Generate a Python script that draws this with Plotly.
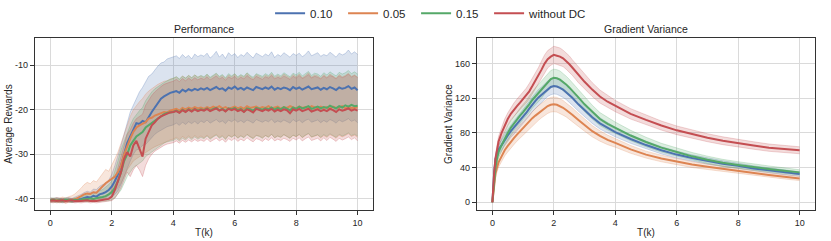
import numpy as np
import plotly.graph_objects as go
from plotly.subplots import make_subplots

# ---------------- Performance data (T in k, step 0.1) ----------------
perf_t = [round(i * 0.1, 1) for i in range(101)]

blue_mean = [-40.3,-40.4,-40.2,-40.3,-40.5,-40.3,-40.2,-40.4,-40.3,-40.1,
 -40.0,-39.8,-39.6,-39.7,-39.3,-39.5,-39.0,-38.8,-38.5,-38.0,
 -37.2,-36.0,-34.5,-32.5,-30.0,-27.5,-26.0,-24.5,-23.0,-23.2,
 -22.5,-22.8,-21.5,-20.5,-19.5,-18.5,-17.5,-17.0,-16.5,-16.2,
 -16.0,-15.8,-16.2,-15.5,-15.9,-15.4,-15.7,-15.3,-15.6,-15.2,
 -15.5,-15.1,-15.6,-15.3,-14.9,-15.4,-15.2,-15.7,-15.0,-15.3,
 -14.8,-15.4,-15.1,-15.5,-15.0,-15.3,-15.6,-14.9,-15.2,-15.4,
 -15.0,-15.3,-14.8,-15.5,-15.1,-15.4,-15.0,-15.2,-15.6,-14.9,
 -15.3,-15.0,-15.5,-15.1,-14.8,-15.4,-15.2,-15.0,-15.5,-15.1,
 -15.4,-14.9,-15.2,-15.6,-15.0,-15.3,-15.1,-14.7,-15.3,-15.0,
 -15.6]
blue_upper = [-39.8,-39.9,-39.7,-39.8,-40.0,-39.8,-39.7,-39.9,-39.6,-39.4,
 -39.0,-38.6,-38.3,-38.5,-37.8,-37.9,-37.2,-36.8,-36.5,-35.8,
 -34.5,-32.5,-30.5,-28.0,-25.5,-23.0,-20.5,-19.0,-17.5,-16.0,
 -15.0,-13.8,-12.5,-12.0,-11.0,-10.2,-9.5,-9.3,-8.6,-8.4,
 -8.2,-7.9,-8.5,-7.6,-8.3,-7.8,-8.6,-7.5,-8.1,-7.7,
 -8.0,-7.3,-8.4,-7.8,-6.9,-8.2,-7.5,-8.5,-7.2,-7.9,
 -7.4,-8.3,-7.6,-8.0,-7.1,-7.8,-8.4,-7.3,-7.7,-8.1,
 -7.5,-7.9,-7.0,-8.3,-7.6,-8.0,-7.2,-7.7,-8.2,-7.4,
 -7.8,-7.3,-8.1,-7.6,-6.8,-7.9,-7.5,-7.2,-8.0,-7.6,
 -7.9,-7.1,-7.6,-8.2,-7.3,-7.7,-7.4,-6.6,-7.5,-7.0,
 -7.6]
blue_lower = [-40.7,-40.8,-40.6,-40.7,-40.9,-40.7,-40.6,-40.8,-40.7,-40.6,
 -40.6,-40.5,-40.4,-40.5,-40.3,-40.4,-40.2,-40.3,-40.1,-39.9,
 -39.6,-39.0,-38.2,-36.8,-35.0,-33.0,-31.5,-30.0,-29.0,-28.8,
 -28.0,-27.8,-27.0,-26.2,-25.5,-25.0,-24.5,-24.2,-23.8,-23.6,
 -23.4,-23.0,-23.5,-22.8,-23.3,-22.7,-23.1,-22.6,-23.2,-22.5,
 -22.9,-22.3,-23.0,-22.6,-22.2,-22.8,-22.5,-23.1,-22.3,-22.7,
 -22.2,-22.8,-22.4,-22.9,-22.3,-22.6,-23.0,-22.2,-22.5,-22.8,
 -22.4,-22.7,-22.1,-22.9,-22.5,-22.8,-22.3,-22.6,-23.0,-22.2,
 -22.7,-22.3,-22.9,-22.4,-22.1,-22.8,-22.5,-22.3,-22.9,-22.4,
 -22.8,-22.2,-22.5,-23.0,-22.3,-22.7,-22.4,-22.0,-22.6,-22.3,
 -22.9]

orange_mean = [-40.3,-40.4,-40.2,-40.4,-40.3,-40.5,-40.2,-40.3,-40.1,-39.8,
 -39.4,-39.0,-38.8,-38.9,-38.5,-38.6,-38.0,-37.2,-36.5,-36.0,
 -35.5,-35.0,-34.0,-32.5,-30.0,-28.0,-26.5,-25.0,-24.0,-23.5,
 -23.2,-22.8,-22.0,-21.8,-21.3,-21.0,-20.8,-20.5,-20.6,-20.2,
 -20.0,-19.8,-20.2,-19.6,-19.9,-19.5,-19.8,-19.4,-19.7,-19.5,
 -19.8,-19.4,-19.7,-19.3,-19.6,-19.2,-19.7,-19.4,-19.8,-19.5,
 -19.3,-19.7,-19.4,-19.8,-19.2,-19.6,-19.5,-19.3,-19.7,-19.4,
 -19.6,-19.2,-19.7,-19.5,-19.3,-19.8,-19.4,-19.6,-19.2,-19.5,
 -19.7,-19.3,-19.6,-19.4,-19.8,-19.2,-19.5,-19.7,-19.3,-19.6,
 -19.4,-19.8,-19.3,-19.6,-19.5,-19.2,-19.7,-19.4,-19.6,-19.5,
 -19.5]
orange_upper = [-39.8,-39.9,-39.7,-39.8,-39.6,-39.8,-39.5,-39.3,-38.9,-38.3,
 -37.6,-36.8,-36.3,-36.6,-35.9,-36.2,-35.2,-34.2,-33.4,-33.8,
 -32.5,-31.0,-29.5,-27.5,-25.0,-23.5,-21.5,-20.0,-19.0,-18.2,
 -17.5,-16.5,-15.8,-15.2,-14.8,-14.3,-14.0,-13.6,-13.5,-13.1,
 -13.0,-12.6,-13.2,-12.4,-12.9,-12.3,-12.8,-12.2,-12.7,-12.4,
 -12.8,-12.1,-12.9,-12.4,-11.9,-12.7,-12.3,-13.0,-12.2,-12.6,
 -12.0,-12.8,-12.3,-12.7,-11.8,-12.5,-13.0,-12.1,-12.4,-12.8,
 -12.2,-12.6,-11.9,-12.8,-12.3,-12.7,-12.0,-12.5,-12.9,-12.1,
 -12.6,-12.0,-12.8,-12.3,-11.7,-12.7,-12.2,-12.4,-12.9,-12.1,
 -12.7,-12.0,-12.4,-12.9,-12.1,-12.6,-12.3,-11.8,-12.5,-12.2,
 -12.7]
orange_lower = [-40.8,-40.9,-40.7,-40.9,-40.8,-41.0,-40.7,-40.8,-40.7,-40.6,
 -40.6,-40.5,-40.6,-40.5,-40.4,-40.5,-40.3,-40.1,-39.8,-39.2,
 -38.5,-38.2,-37.5,-36.5,-35.0,-33.5,-32.5,-31.5,-31.0,-30.5,
 -30.0,-29.6,-29.0,-28.7,-28.3,-28.0,-27.6,-27.3,-27.1,-26.8,
 -26.6,-26.2,-26.7,-26.0,-26.5,-25.9,-26.4,-25.8,-26.3,-25.9,
 -26.3,-25.7,-26.4,-25.9,-25.5,-26.2,-25.8,-26.5,-25.7,-26.1,
 -25.6,-26.3,-25.8,-26.2,-25.5,-26.0,-26.4,-25.7,-25.9,-26.3,
 -25.8,-26.1,-25.5,-26.3,-25.9,-26.2,-25.6,-26.0,-26.4,-25.7,
 -26.1,-25.6,-26.3,-25.8,-25.4,-26.2,-25.9,-25.7,-26.3,-25.8,
 -26.2,-25.6,-25.9,-26.4,-25.7,-26.1,-25.8,-25.4,-26.0,-25.7,
 -26.2]

green_mean = [-40.3,-40.2,-40.4,-40.3,-40.4,-40.2,-40.3,-40.4,-40.2,-40.3,
 -40.2,-40.0,-40.1,-39.9,-40.0,-39.8,-39.7,-39.6,-39.4,-39.0,
 -38.5,-37.5,-36.0,-34.0,-31.5,-30.0,-28.0,-27.0,-26.0,-25.5,
 -25.0,-24.0,-23.5,-22.8,-22.3,-21.8,-21.3,-21.0,-20.7,-20.6,
 -20.5,-20.2,-20.6,-20.0,-20.4,-19.9,-20.3,-19.8,-20.2,-19.9,
 -20.1,-19.7,-20.2,-19.8,-19.6,-20.1,-19.8,-20.3,-19.7,-19.9,
 -19.6,-20.1,-19.8,-20.4,-19.7,-19.9,-20.2,-19.6,-19.8,-20.0,
 -19.7,-19.9,-19.5,-20.0,-19.6,-19.9,-19.4,-19.7,-20.1,-19.5,
 -19.8,-19.3,-19.7,-19.5,-19.2,-19.8,-19.5,-19.3,-19.7,-19.4,
 -19.6,-19.1,-19.4,-19.7,-19.2,-19.5,-19.0,-19.3,-18.9,-19.2,
 -19.1]
green_upper = [-39.9,-39.8,-40.0,-39.9,-40.0,-39.8,-39.9,-40.0,-39.8,-39.8,
 -39.6,-39.3,-39.2,-38.8,-38.9,-38.5,-38.2,-37.9,-37.4,-36.8,
 -36.0,-34.0,-31.5,-29.0,-27.0,-25.5,-23.5,-22.0,-21.0,-20.2,
 -19.5,-18.0,-17.0,-16.0,-15.3,-14.8,-14.2,-13.9,-13.5,-13.2,
 -13.0,-12.6,-13.1,-12.5,-12.9,-12.3,-12.8,-12.2,-12.7,-12.3,
 -12.6,-12.0,-12.7,-12.2,-11.8,-12.5,-12.1,-12.8,-11.9,-12.4,
 -11.9,-12.6,-12.1,-12.5,-11.7,-12.3,-12.7,-11.9,-12.2,-12.5,
 -11.9,-12.3,-11.6,-12.5,-12.0,-12.4,-11.7,-12.1,-12.6,-11.8,
 -12.2,-11.6,-12.4,-11.9,-11.4,-12.3,-11.8,-12.0,-12.5,-11.7,
 -12.2,-11.5,-11.9,-12.4,-11.6,-12.0,-11.7,-11.2,-11.9,-11.5,
 -12.0]
green_lower = [-40.7,-40.6,-40.8,-40.7,-40.8,-40.6,-40.7,-40.8,-40.6,-40.7,
 -40.7,-40.6,-40.7,-40.6,-40.7,-40.6,-40.6,-40.5,-40.5,-40.4,
 -40.2,-39.8,-39.0,-38.0,-36.5,-35.0,-34.0,-33.0,-32.5,-32.0,
 -31.5,-30.5,-30.0,-29.3,-28.8,-28.3,-27.8,-27.5,-27.2,-27.0,
 -26.9,-26.5,-27.0,-26.4,-26.8,-26.2,-26.7,-26.1,-26.6,-26.2,
 -26.5,-25.9,-26.6,-26.1,-25.7,-26.4,-26.0,-26.7,-25.8,-26.2,
 -25.7,-26.4,-25.9,-26.3,-25.6,-26.1,-26.5,-25.8,-26.0,-26.4,
 -25.8,-26.2,-25.5,-26.3,-25.9,-26.2,-25.6,-26.0,-26.4,-25.7,
 -26.0,-25.5,-26.2,-25.7,-25.3,-26.1,-25.8,-25.6,-26.2,-25.6,
 -26.0,-25.4,-25.8,-26.2,-25.5,-25.9,-25.6,-25.2,-25.8,-25.5,
 -25.9]

red_mean = [-40.4,-40.3,-40.5,-40.4,-40.3,-40.5,-40.4,-40.3,-40.5,-40.4,
 -40.5,-40.4,-40.3,-40.5,-40.4,-40.5,-40.4,-40.3,-40.2,-40.0,
 -39.5,-38.0,-36.0,-34.0,-31.0,-29.5,-30.5,-28.0,-27.0,-29.0,
 -30.5,-26.5,-25.0,-23.5,-22.8,-22.0,-21.5,-21.2,-20.8,-20.6,
 -20.5,-20.3,-20.7,-20.1,-20.5,-20.0,-20.4,-19.9,-20.3,-20.0,
 -20.2,-19.8,-20.3,-20.0,-19.7,-20.2,-19.9,-20.4,-19.8,-20.1,
 -19.8,-20.3,-20.0,-20.5,-19.9,-20.2,-20.6,-19.8,-20.1,-20.3,
 -19.9,-20.2,-19.8,-20.4,-20.0,-20.3,-19.9,-20.1,-20.8,-19.9,
 -20.2,-19.8,-20.3,-20.0,-19.8,-20.4,-20.1,-19.9,-20.3,-20.0,
 -20.3,-19.8,-20.1,-20.5,-19.9,-20.2,-20.0,-19.7,-20.2,-19.9,
 -20.2]
red_upper = [-40.0,-39.9,-40.1,-40.0,-39.9,-40.1,-40.0,-39.9,-40.1,-40.0,
 -40.1,-40.0,-39.9,-40.1,-40.0,-40.0,-39.9,-39.7,-39.4,-39.0,
 -38.0,-35.5,-33.0,-30.5,-27.5,-25.5,-24.5,-23.0,-22.0,-21.5,
 -21.0,-19.0,-17.8,-16.8,-16.0,-15.3,-14.8,-14.3,-14.0,-13.8,
 -13.6,-13.2,-13.7,-13.0,-13.5,-12.9,-13.4,-12.8,-13.3,-12.9,
 -13.2,-12.6,-13.3,-12.8,-12.4,-13.1,-12.7,-13.4,-12.6,-13.0,
 -12.5,-13.2,-12.7,-13.1,-12.3,-12.9,-13.3,-12.5,-12.8,-13.2,
 -12.6,-12.9,-12.3,-13.1,-12.7,-13.0,-12.4,-12.8,-13.2,-12.5,
 -12.9,-12.3,-13.0,-12.6,-12.1,-12.9,-12.5,-12.7,-13.1,-12.4,
 -12.9,-12.3,-12.6,-13.1,-12.4,-12.8,-12.5,-12.0,-12.7,-12.3,
 -12.8]
red_lower = [-40.8,-40.7,-40.9,-40.8,-40.7,-40.9,-40.8,-40.7,-40.9,-40.8,
 -40.9,-40.8,-40.7,-40.9,-40.8,-40.9,-40.8,-40.7,-40.7,-40.6,
 -40.4,-39.8,-38.8,-37.5,-35.5,-34.0,-35.0,-33.5,-32.5,-33.5,
 -35.0,-32.5,-31.0,-30.0,-29.3,-28.8,-28.3,-28.0,-27.7,-27.5,
 -27.4,-27.0,-27.5,-26.9,-27.3,-26.8,-27.2,-26.7,-27.1,-26.8,
 -27.1,-26.5,-27.2,-26.8,-26.4,-27.0,-26.6,-27.3,-26.5,-26.9,
 -26.4,-27.1,-26.6,-27.0,-26.3,-26.8,-27.2,-26.5,-26.7,-27.1,
 -26.5,-26.9,-26.3,-27.0,-26.6,-26.9,-26.4,-26.7,-27.1,-26.4,
 -26.8,-26.3,-27.0,-26.5,-26.1,-26.9,-26.6,-26.4,-27.0,-26.3,
 -26.9,-26.2,-26.6,-27.1,-26.4,-26.8,-26.5,-26.1,-26.7,-26.3,
 -27.0]

# ---------------- Gradient variance data ----------------
gv_t = [0, 0.03, 0.06, 0.1, 0.15, 0.2, 0.3, 0.4, 0.5, 0.6, 0.7, 0.8, 0.9, 1.0,
        1.1, 1.2, 1.3, 1.4, 1.5, 1.6, 1.7, 1.8, 1.9, 2.0, 2.1, 2.2, 2.3, 2.4,
        2.5, 2.6, 2.8, 3.0, 3.25, 3.5, 3.75, 4.0, 4.5, 5.0, 5.5, 6.0, 6.5, 7.0,
        7.5, 8.0, 8.5, 9.0, 9.5, 10.0]
gv_blue = [0, 20, 35, 50, 57, 61, 66, 72, 77, 82, 86, 90, 95, 99, 103, 108, 113,
           117, 121, 124, 128, 131, 133, 134, 133.5, 132, 130, 127, 124, 120.5,
           113, 106, 98, 91, 85.5, 81, 73, 66, 60, 55, 51, 47.5, 44.5, 42, 39,
           37, 34.5, 32.5]
gv_orange = [0, 12, 22, 33, 40, 46, 53, 60, 65, 70, 74, 78, 82, 85, 89, 93, 97,
             100, 103, 106, 109, 111, 112.5, 113, 112.5, 111, 109, 106.5, 104,
             101, 95, 89, 82, 76.5, 72, 68.5, 61, 55, 50.5, 47, 43.5, 41, 38.5,
             36.5, 34, 31.5, 29.5, 27.5]
gv_green = [0, 15, 26, 40, 50, 58, 66, 74, 80, 86, 91, 96, 100, 104, 108, 113,
            118, 122, 126, 130, 135, 139, 142, 143.5, 143, 141.5, 139, 136,
            132.5, 129, 121, 113, 104, 96, 90.5, 86, 77, 69.5, 63, 58, 53, 49,
            45.5, 43, 40.5, 38.5, 36.5, 34.5]
gv_red = [0, 22, 35, 50, 60, 70, 80, 89, 96, 102, 107, 111, 115, 119, 123, 128,
          134, 140, 146, 153, 160, 165, 168, 170, 169, 168, 166, 163, 159.5,
          155.5, 147, 139, 130, 122, 116, 111, 102, 95, 88.5, 83, 78.5, 74.5,
          71, 68, 65.5, 63, 61.5, 60]
gv_blue_sd = [0, 3, 4, 5, 5, 6, 6, 6.5, 7, 7, 7.5, 7.5, 8, 8, 8, 8.5, 8.5, 9, 9,
              9, 9, 9, 9, 9, 9, 9, 9, 8.5, 8.5, 8.5, 8, 7.5, 7, 6.5, 6, 5.5, 5,
              4.5, 4.2, 4, 3.7, 3.5, 3.3, 3.1, 3, 2.8, 2.7, 2.5]
gv_orange_sd = [0, 3, 4, 5, 5, 5.5, 6, 6.5, 7, 7, 7.5, 7.5, 8, 8, 8, 8, 8.5, 8.5,
                8.5, 8.5, 8.5, 8.5, 8.5, 8.5, 8.5, 8.5, 8.5, 8, 8, 8, 7.5, 7, 6.5,
                6, 5.5, 5, 4.5, 4, 3.8, 3.6, 3.4, 3.2, 3, 2.9, 2.8, 2.7, 2.6, 2.5]
gv_green_sd = [0, 3, 4, 5, 6, 6, 7, 7, 8, 8, 8, 8.5, 8.5, 9, 9, 9.5, 9.5, 10, 10,
               10, 10, 10, 10, 10, 10, 10, 10, 9.5, 9.5, 9, 9, 8.5, 8, 7.5, 7,
               6.5, 6, 5.5, 5, 4.7, 4.4, 4.2, 4, 3.8, 3.6, 3.4, 3.2, 3]
gv_red_sd = [0, 3, 4, 5, 5, 6, 6, 7, 7, 7, 7.5, 8, 8, 8.5, 8.5, 9, 9, 9.5, 9.5,
             10, 10, 10, 10, 10, 10, 10, 9.5, 9.5, 9.5, 9, 9, 8.5, 8, 7.5, 7,
             6.5, 6, 5.5, 5.2, 5, 4.8, 4.6, 4.5, 4.4, 4.3, 4.2, 4.1, 4]

series_names = ["0.10", "0.05", "0.15", "without DC"]
colors = ["#4C72B0", "#DD8452", "#55A868", "#C44E52"]

perf_tick_vals = [-40, -30, -20, -10]
perf_tick_text = ["-40", "-30", "-20", "-10"]
gv_tick_vals = [0, 40, 80, 120, 160]
x_tick_vals = [0, 2, 4, 6, 8, 10]


def rgba(hex_color, a):
    h = hex_color.lstrip("#")
    return "rgba(%d,%d,%d,%.3f)" % (int(h[0:2], 16), int(h[2:4], 16), int(h[4:6], 16), a)


fig = make_subplots(rows=1, cols=2, subplot_titles=("Performance", "Gradient Variance"),
                    horizontal_spacing=0.1334)

perf = [(blue_mean, blue_upper, blue_lower), (orange_mean, orange_upper, orange_lower),
        (green_mean, green_upper, green_lower), (red_mean, red_upper, red_lower)]
gv = [(gv_blue, gv_blue_sd), (gv_orange, gv_orange_sd), (gv_green, gv_green_sd), (gv_red, gv_red_sd)]

for name, col, (m, u, l) in zip(series_names, colors, perf):
    fig.add_trace(go.Scatter(x=perf_t, y=u, mode="lines", line=dict(color=rgba(col, 0.35), width=0.8),
                             showlegend=False, hoverinfo="skip"), row=1, col=1)
    fig.add_trace(go.Scatter(x=perf_t, y=l, mode="lines", line=dict(color=rgba(col, 0.35), width=0.8),
                             fill="tonexty", fillcolor=rgba(col, 0.2),
                             showlegend=False, hoverinfo="skip"), row=1, col=1)
for i, (name, col, (m, u, l)) in enumerate(zip(series_names, colors, perf)):
    fig.add_trace(go.Scatter(x=perf_t, y=m, mode="lines", name=name, legendgroup=name,
                             legendrank=i + 1, line=dict(color=col, width=2)), row=1, col=1)

for name, col, (m, sd) in zip(series_names, colors, gv):
    mm = np.array(m, dtype=float)
    ss = np.array(sd, dtype=float)
    fig.add_trace(go.Scatter(x=gv_t, y=mm + ss, mode="lines", line=dict(color=rgba(col, 0.3), width=0.8),
                             showlegend=False, hoverinfo="skip"), row=1, col=2)
    fig.add_trace(go.Scatter(x=gv_t, y=mm - ss, mode="lines", line=dict(color=rgba(col, 0.3), width=0.8),
                             fill="tonexty", fillcolor=rgba(col, 0.2),
                             showlegend=False, hoverinfo="skip"), row=1, col=2)
for name, col, (m, sd) in zip(series_names, colors, gv):
    fig.add_trace(go.Scatter(x=gv_t, y=m, mode="lines", name=name, legendgroup=name, showlegend=False,
                             line=dict(color=col, width=2)), row=1, col=2)

# invisible spacer entry so the last legend label is not clipped by the fixed entry width
fig.add_trace(go.Scatter(x=[None], y=[None], mode="lines", name=" ", legendrank=99,
                         line=dict(color="rgba(0,0,0,0)"), hoverinfo="skip"), row=1, col=1)

axis_common = dict(showline=True, linecolor="#333333", linewidth=1.3, mirror=True,
                   ticks="outside", ticklen=4, tickwidth=1, tickcolor="#333333",
                   showgrid=True, gridcolor="#DADADA", gridwidth=1, zeroline=False,
                   automargin=False, tickfont=dict(size=9, color="#262626"))

fig.update_xaxes(**axis_common, range=[-0.5, 10.5], tickvals=x_tick_vals,
                 title=dict(text="T(k)", font=dict(size=10, color="#262626"), standoff=2))
fig.update_yaxes(**axis_common, range=[-42.5, -3.9], tickvals=perf_tick_vals, ticktext=perf_tick_text,
                 title=dict(text="Average Rewards", font=dict(size=10, color="#262626"), standoff=0),
                 row=1, col=1)
fig.update_yaxes(**axis_common, range=[-8.9, 189.5], tickvals=gv_tick_vals,
                 title=dict(text="Gradient Variance", font=dict(size=10, color="#262626"), standoff=0),
                 row=1, col=2)

for ann in fig.layout.annotations:
    ann.font = dict(size=10.5, color="#262626")
    ann.yshift = 1

fig.update_layout(
    width=831, height=241,
    margin=dict(l=35, r=16, t=38, b=31, autoexpand=False),
    paper_bgcolor="white", plot_bgcolor="white",
    font=dict(family="Arial, Liberation Sans, sans-serif", color="#262626"),
    legend=dict(orientation="h", xref="container", x=0.325, xanchor="left",
                yref="container", y=0.945, yanchor="middle",
                font=dict(size=11.5, color="#262626"), itemwidth=30,
                entrywidth=28, entrywidthmode="pixels",
                bgcolor="rgba(0,0,0,0)"),
)

fig.write_html("out.html", config={"displayModeBar": False},
               post_script="document.body.style.margin='0';")
